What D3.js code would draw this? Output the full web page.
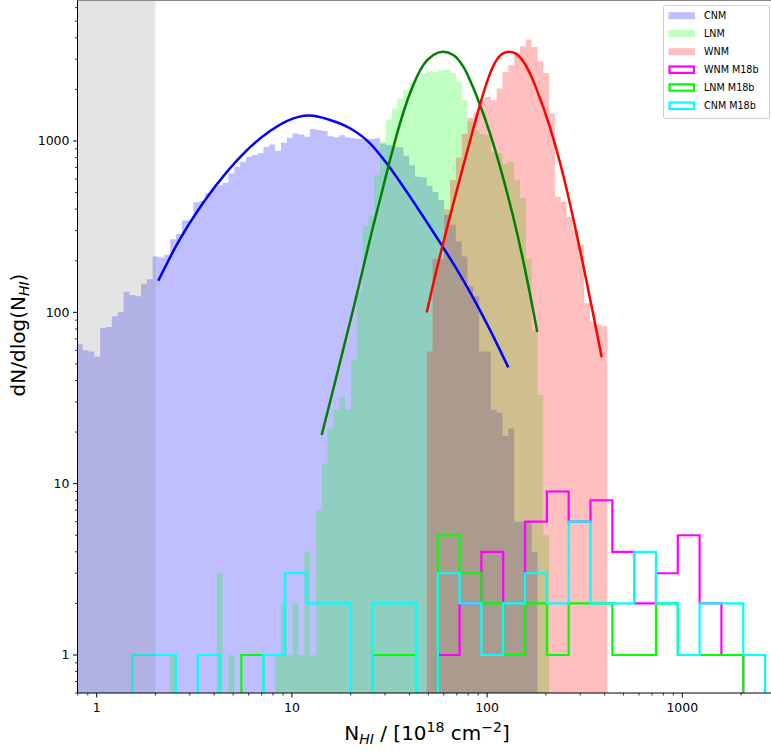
<!DOCTYPE html>
<html><head><meta charset="utf-8">
<script src="https://cdn.jsdelivr.net/npm/d3@7/dist/d3.min.js"></script>
<style>body{margin:0;background:#fff;}svg{display:block;font-family:"DejaVu Sans",sans-serif;}</style>
</head><body>
<svg id="c" width="771" height="751"></svg>
<script>
// ---------------- DATA ----------------
// fine histogram grid: log10(N) of edge #0 and step (dex)
const fineEdge0 = -0.0717;
const fineStep = 0.02987;
// CNM histogram (first bin index -1)
const cnmStart = -1;
const cnmCounts = [65,60,59,55,81,82,95,100,132,126,124,147,156,212,209,217,267,286,343,343,
  439,447,495,530,550,571,647,708,757,809,827,847,925,955,877,977,1045,1107,1092,1059,
  1173,1159,1145,1065,1051,1079,1051,1038,1028,1024,1028,1038,968,946,925,918,820,721,619,614,
  548,504,453,370,324,259,212,142,124,59,59,27,26,19,21,6,6,6,4];
// LNM histogram (first bin index 15)
const lnmStart = 15;
const lnmCounts = [1,0,0,0,0,0,0,0,3,0,1,0,0,0,0,0,0,0,1,2,1,2,1,4,1,7,13,21,27,32,27,53,131,320,367,632,
  989,1336,1549,1771,1978,2193,2315,2475,2554,2529,2588,2612,2500,2218,1730,1300,1150,1100,1082,860,845,740,760,590,465,205,79,33,5];
// WNM histogram (first bin index 59)
const wnmStart = 59;
const wnmCounts = [59,205,205,400,592,800,1100,1360,1450,1700,1808,1730,2023,2529,2768,3237,3571,3906,3538,2918,2494,1449,473,440,360,300,248,113,88,85,83];

// coarse M18b grid
const coarseEdge0 = 0.1824;
const coarseStep = 0.11178;
const wnmM18b = [0,0,0,0,0,0,0,0,0,0,0,0,0,0,1,2,4,1,6,9,6,8,4,2,3,5,2,1];
const lnmM18b = [0,0,0,0,0,1,0,0,0,0,0,1,1,0,5,3,2,1,2,1,2,2,1,1,2,1,1,1];
const cnmM18b = [1,1,0,1,0,0,1,3,2,2,0,2,2,0,3,2,1,2,3,2,6,2,2,4,2,1,2,2,1];

// fitted curves, points [N, dN/dlogN]
const cnmFit = [[2.068,152.9],[2.548,243.2],[3.517,437.5],[4.634,658.2],[5.636,841.8],[7.725,1142],[9.406,1307],
  [12.28,1407],[15.67,1326],[19.84,1186],[25.12,969.4],[30.59,741.1],[37.21,541.1],[47.12,361.5],[58.54,246.5],
  [69.88,178.5],[84.99,120.9],[103.5,78.97],[128.5,47.64]];
const lnmFit = [[14.21,19.23],[16.30,35.69],[18.34,61.06],[20.63,104.6],[22.79,167.3],[25.64,294.3],[28.84,497.1],
  [31.81,774.5],[35.80,1268],[40.27,1898],[47.12,2776],[53.02,3176],[59.24,3320],[67.12,3176],[75.52,2713],
  [88.44,1825],[103.5,1107],[121.1,603.2],[141.8,296.3],[153.3,198.8],[165.9,127.9],[180.8,76.77]];
const wnmFit = [[49.05,99.75],[53.02,147.3],[57.37,214.0],[62.09,305.5],[67.12,429.9],[72.63,605.6],[78.62,848.6],
  [84.99,1178],[91.96,1629],[98.72,2125],[105.9,2642],[113.7,3054],[120.6,3244],[129.2,3320],[139.0,3253],
  [153.3,2911],[165.9,2474],[179.6,1993],[210.1,1197],[245.7,628.7],[276.4,352.9],[311.0,187.6],[349.9,97.12],[386.5,54.64]];

const xMajor = [1,10,100,1000];
const yMajor = [1,10,100,1000];
const shadeLimit = 2;
const legendLabels = ["CNM","LNM","WNM","WNM M18b","LNM M18b","CNM M18b"];

// ---------------- LAYOUT ----------------
const plotL = 77.5, plotR = 775, plotT = 0, plotB = 693;
const xMin = 0.7973, xMax = 2985, yMin = 0.6, yMax = 6650;
const x = d3.scaleLog().domain([xMin, xMax]).range([plotL, plotR]);
const y = d3.scaleLog().domain([yMin, yMax]).range([plotB, plotT]);
const svg = d3.select("#c");

svg.append("defs").append("clipPath").attr("id","clip")
  .append("rect").attr("x",plotL).attr("y",plotT).attr("width",plotR-plotL).attr("height",plotB-plotT);
const g = svg.append("g").attr("clip-path","url(#clip)");

function edge(e0, st, i){ return x(Math.pow(10, e0 + i*st)); }
function histPath(start, counts, e0, st, close){
  const yb = plotB + 10;
  let p = "";
  counts.forEach((c,i)=>{
    const x0 = edge(e0, st, start+i), x1 = edge(e0, st, start+i+1);
    const yy = c > 0 ? y(c) : yb;
    if(i===0) p += `M${x0},${yb}`;
    p += `L${x0},${yy}L${x1},${yy}`;
  });
  p += `L${edge(e0, st, start+counts.length)},${yb}`;
  if(close) p += "Z";
  return p;
}

// filled histograms
g.append("path").attr("d", histPath(cnmStart, cnmCounts, fineEdge0, fineStep, true)).attr("fill","blue").attr("fill-opacity",0.25);
g.append("path").attr("d", histPath(lnmStart, lnmCounts, fineEdge0, fineStep, true)).attr("fill","lime").attr("fill-opacity",0.25);
g.append("path").attr("d", histPath(wnmStart, wnmCounts, fineEdge0, fineStep, true)).attr("fill","red").attr("fill-opacity",0.25);

// fits
const line = d3.line().x(d=>x(d[0])).y(d=>y(d[1])).curve(d3.curveMonotoneX);
[[cnmFit,"blue"],[lnmFit,"green"],[wnmFit,"red"]].forEach(([d,c])=>{
  g.append("path").attr("d", line(d)).attr("fill","none").attr("stroke",c).attr("stroke-width",2.5).attr("stroke-linecap","butt");
});

// M18b step histograms
[[wnmM18b,"magenta"],[lnmM18b,"lime"],[cnmM18b,"cyan"]].forEach(([d,c])=>{
  g.append("path").attr("d", histPath(0, d, coarseEdge0, coarseStep, false)).attr("fill","none")
   .attr("stroke",c).attr("stroke-width",2.2).attr("stroke-linejoin","miter");
});

// grey shaded region
g.append("rect").attr("x", x(xMin)).attr("y", plotT).attr("width", x(shadeLimit)-x(xMin)).attr("height", plotB-plotT)
  .attr("fill","gray").attr("fill-opacity",0.21);

// ---------------- AXES ----------------
function minorTicks(lo, hi){
  const out=[];
  for(let e=-2;e<=4;e++) for(let m=2;m<=9;m++){ const v=m*Math.pow(10,e); if(v>lo && v<hi) out.push(v); }
  return out;
}
const ax = svg.append("g");
ax.append("line").attr("x1",plotL).attr("x2",plotR).attr("y1",plotB).attr("y2",plotB).attr("stroke","#000").attr("stroke-width",1);
ax.append("line").attr("x1",plotL).attr("x2",plotL).attr("y1",plotT).attr("y2",plotB).attr("stroke","#000").attr("stroke-width",1);
ax.append("line").attr("x1",plotL).attr("x2",plotR).attr("y1",0.5).attr("y2",0.5).attr("stroke","#888").attr("stroke-width",1);

xMajor.forEach(v=>{
  ax.append("line").attr("x1",x(v)).attr("x2",x(v)).attr("y1",plotB).attr("y2",plotB+4.5).attr("stroke","#000");
  ax.append("text").attr("x",x(v)).attr("y",712).attr("text-anchor","middle").attr("font-size",12.5).attr("fill","#000").text(v);
});
minorTicks(xMin,xMax).forEach(v=>{
  ax.append("line").attr("x1",x(v)).attr("x2",x(v)).attr("y1",plotB).attr("y2",plotB+2.5).attr("stroke","#000").attr("stroke-width",0.8);
});
yMajor.forEach(v=>{
  ax.append("line").attr("x1",plotL-4.5).attr("x2",plotL).attr("y1",y(v)).attr("y2",y(v)).attr("stroke","#000");
  ax.append("text").attr("x",plotL-8).attr("y",y(v)+4.5).attr("text-anchor","end").attr("font-size",12.5).attr("fill","#000").text(v);
});
minorTicks(yMin,yMax).forEach(v=>{
  ax.append("line").attr("x1",plotL-2.5).attr("x2",plotL).attr("y1",y(v)).attr("y2",y(v)).attr("stroke","#000").attr("stroke-width",0.8);
});

// axis labels
const fs = 20, fsub = 14;
const xl = svg.append("text").attr("x",427).attr("y",740).attr("text-anchor","middle").attr("font-size",fs).attr("fill","#000");
xl.append("tspan").text("N");
xl.append("tspan").attr("font-size",fsub).attr("font-style","italic").attr("dy",4).text("HI");
xl.append("tspan").attr("dy",-4).text(" / [10");
xl.append("tspan").attr("font-size",fsub).attr("dy",-8).text("18");
xl.append("tspan").attr("dy",8).text(" cm");
xl.append("tspan").attr("font-size",fsub).attr("dy",-8).text("\u22122");
xl.append("tspan").attr("dy",8).text("]");

const yl = svg.append("text").attr("transform","translate(25,335) rotate(-90)").attr("text-anchor","middle").attr("font-size",fs).attr("fill","#000");
yl.append("tspan").text("dN/dlog(N");
yl.append("tspan").attr("font-size",fsub).attr("font-style","italic").attr("dy",4).text("HI");
yl.append("tspan").attr("dy",-4).text(")");

// ---------------- LEGEND ----------------
const lg = svg.append("g");
lg.append("rect").attr("x",663.5).attr("y",5.5).attr("width",106).attr("height",113).attr("rx",2)
  .attr("fill","#fff").attr("fill-opacity",0.8).attr("stroke","#ccc");
const rows = [15.7,33.4,51.7,69.7,87.5,105.8];
const fills = ["blue","lime","red"];
const strokes = ["magenta","lime","cyan"];
legendLabels.forEach((lab,i)=>{
  const cy = rows[i];
  if(i<3){
    lg.append("rect").attr("x",668.5).attr("y",cy-3.5).attr("width",26.5).attr("height",7).attr("fill",fills[i]).attr("fill-opacity",0.25);
  } else {
    lg.append("rect").attr("x",669.5).attr("y",cy-3.2).attr("width",24.5).attr("height",6.4).attr("fill","none").attr("stroke",strokes[i-3]).attr("stroke-width",2.2);
  }
  lg.append("text").attr("x",704).attr("y",cy+3.5).attr("font-size",9.6).attr("fill","#000").text(lab);
});
</script>
</body></html>
